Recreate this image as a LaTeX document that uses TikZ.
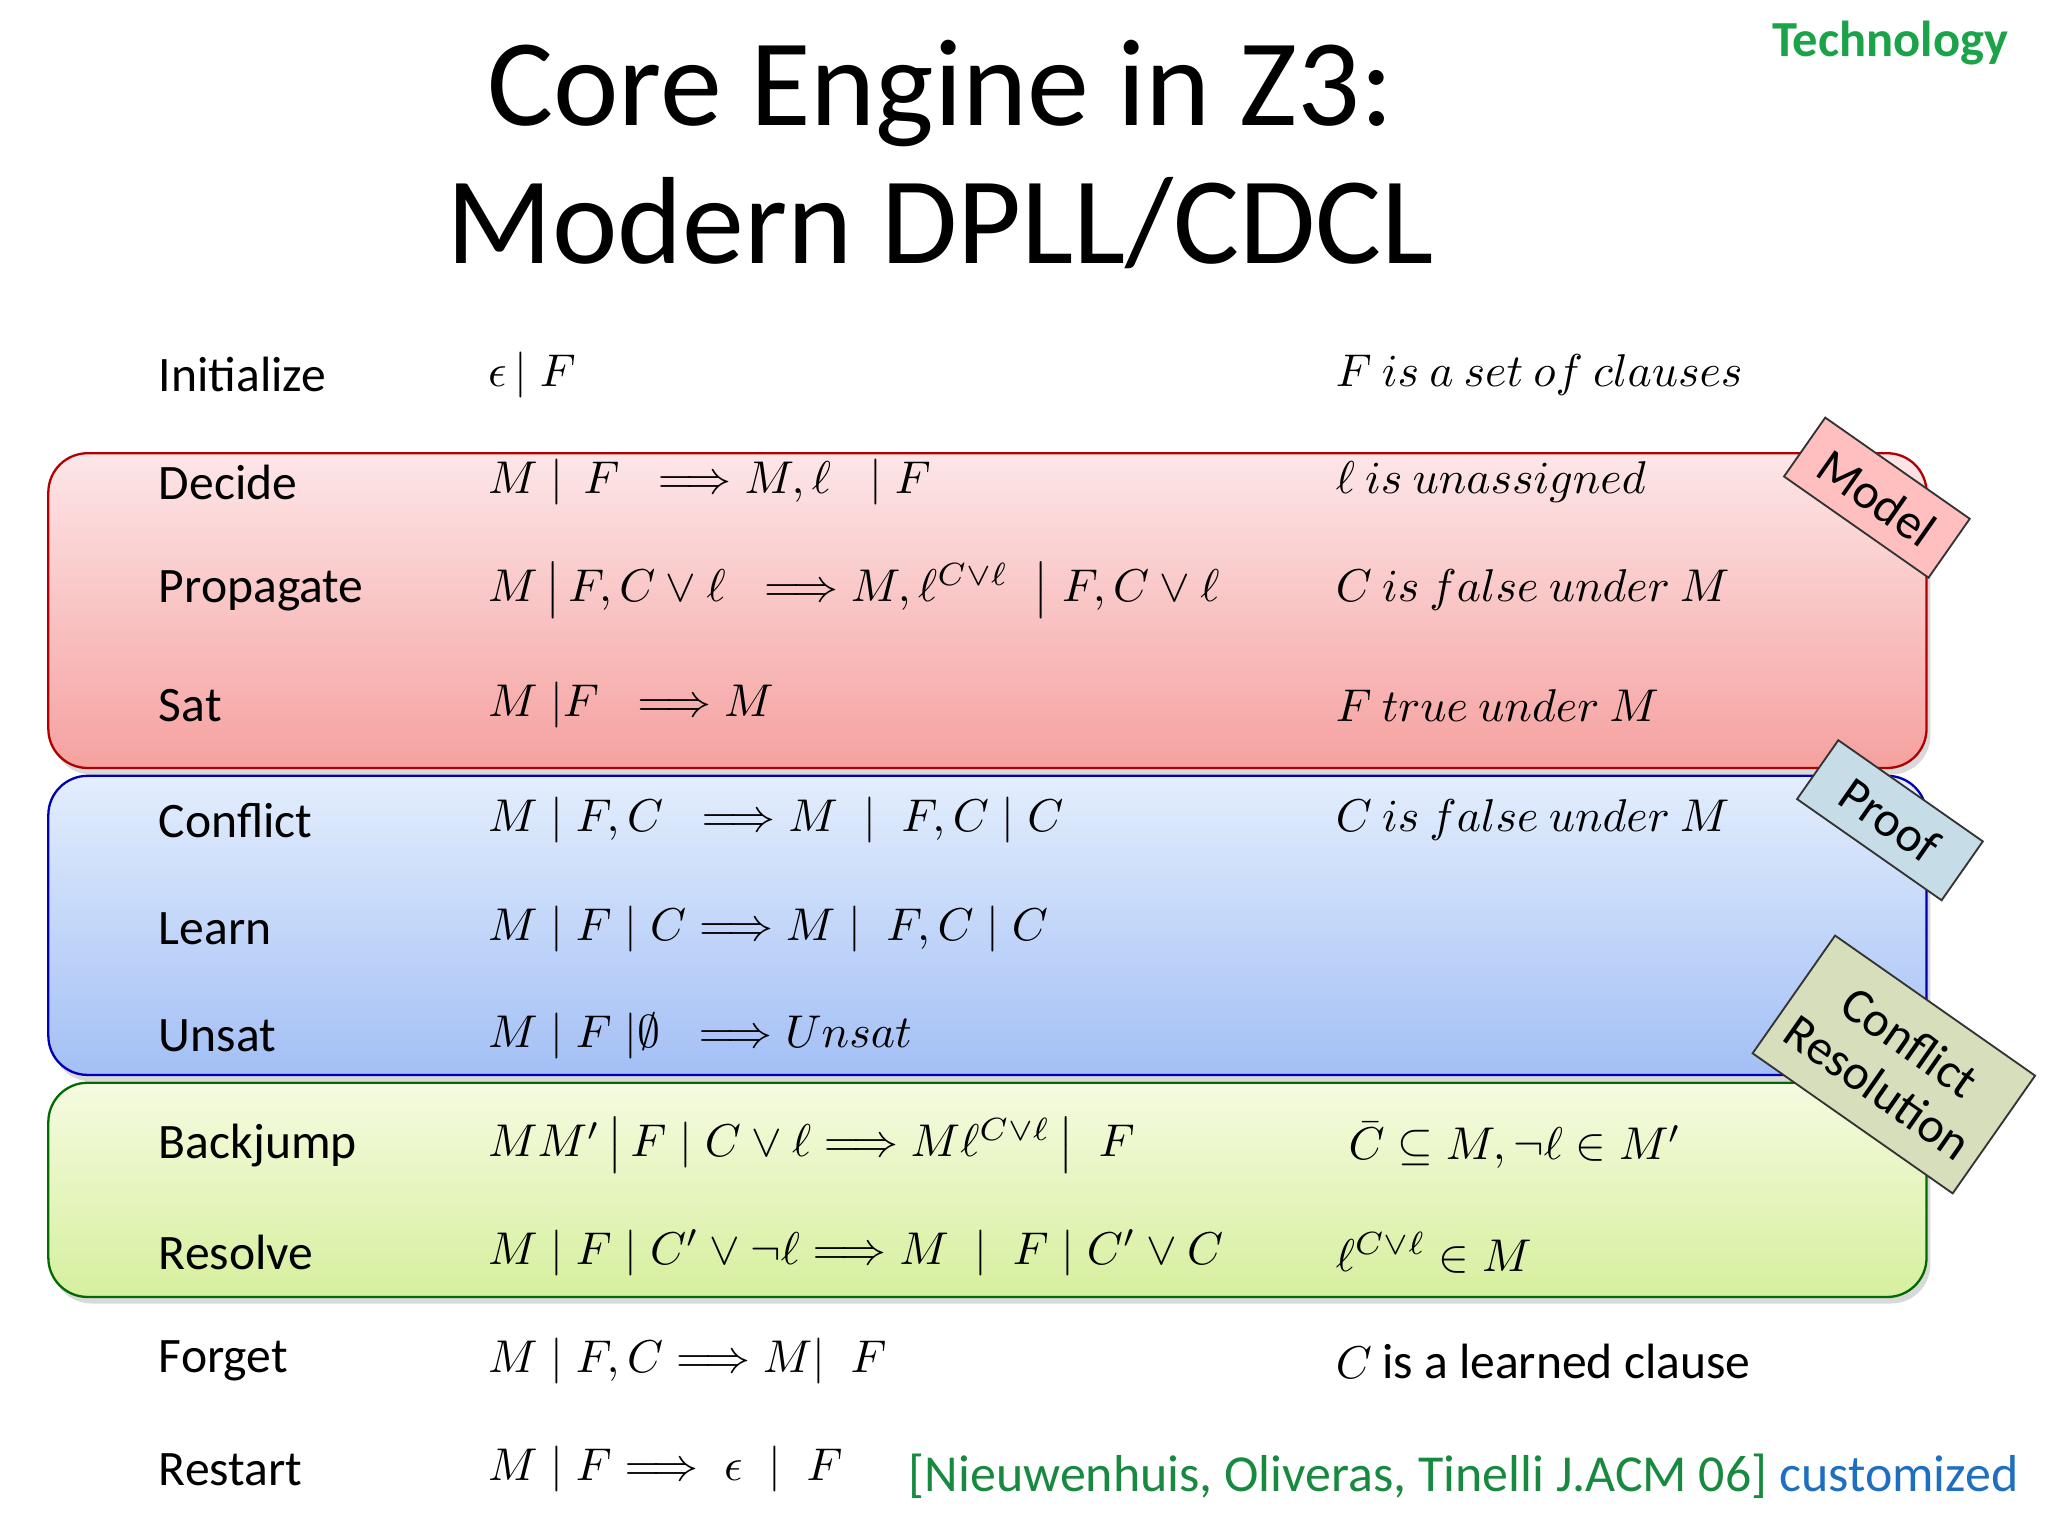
\documentclass[tikz,border=0pt]{standalone}
\usepackage{fontspec}
\setmainfont{Carlito}
\usetikzlibrary{shadows}
\begin{document}
\begin{tikzpicture}[x=0.01cm,y=-0.01cm,
  lbl/.style={anchor=west,font=\fontsize{10.8}{12}\selectfont,inner sep=0},
  frm/.style={anchor=west,font=\fontsize{9.8}{12}\selectfont,inner sep=0},
  band/.style={rounded corners=0.3cm,draw=#1!70!black,line width=0.5pt,drop shadow={opacity=0.3,shadow xshift=0.03cm,shadow yshift=-0.05cm}},
  tag/.style={draw=black!80,line width=0.4pt,rotate=-35,font=\fontsize{10.8}{12}\selectfont,align=center,minimum width=1.35cm,minimum height=0.55cm}]
\useasboundingbox (0,0) rectangle (1568,1176);
\definecolor{rtop}{HTML}{FDE6E8}\definecolor{rbot}{HTML}{F5A19F}
\definecolor{btop}{HTML}{E3EEFD}\definecolor{bbot}{HTML}{A3BFF5}
\definecolor{gtop}{HTML}{F5FBE0}\definecolor{gbot}{HTML}{D6EF9E}
\definecolor{tgreen}{HTML}{1BA34A}\definecolor{cblue}{HTML}{1F6FC0}
\node[anchor=east,font=\bfseries\fontsize{11}{12}\selectfont,text=tgreen] (tech) at (1550,33) {Technology};
\node[font=\fontsize{27}{32}\selectfont,align=center] (title) at (720,118) {Core Engine in Z3:\\[-2pt]Modern DPLL/CDCL};
\path[band=red,top color=rtop,bottom color=rbot] (37,347) rectangle (1475,588);
\path[band=blue,top color=btop,bottom color=bbot] (37,594) rectangle (1475,823);
\path[band=green!60!black,top color=gtop,bottom color=gbot] (37,829) rectangle (1475,993);
\node[tag,fill=red!25] (model) at (1437,381) {Model};
\node[tag,fill=cyan!20!teal!25] (proof) at (1447,628) {Proof};
\node[tag,fill={rgb,255:red,214;green,222;blue,188},minimum width=1.75cm,minimum height=1.1cm] (cr) at (1450,815) {Conflict\\Resolution};
\foreach \n/\y/\f/\c in {
 Initialize/287/{$\epsilon\,|\;F$}/{$F\ is\ a\ set\ of\ clauses$},
 Decide/369/{$M\;|\;\,F\;\;\Longrightarrow M,\ell\;\;\;|\;F$}/{$\ell\ is\ unassigned$},
 Propagate/452/{$M\,\big|\,F,C\vee\ell\;\;\Longrightarrow M,\ell^{C\vee\ell}\;\;\big|\;F,C\vee\ell$}/{$C\ is\ false\ under\ M$},
 Sat/540/{$M\;|F\;\;\Longrightarrow M$}/{$F\ true\ under\ M$},
 Conflict/628/{$M\;|\;F,C\;\;\Longrightarrow M\;\;|\;\;F,C\;|\;C$}/{$C\ is\ false\ under\ M$},
 Learn/711/{$M\;|\;F\;|\;C\Longrightarrow M\;|\;\;F,C\;|\;C$}/{},
 Unsat/793/{$M\;|\;F\;|\emptyset\;\;\Longrightarrow Unsat$}/{},
 Backjump/877/{$MM'\,\big|\,F\;|\;C\vee\ell\Longrightarrow M\ell^{C\vee\ell}\,\big|\;\;F$}/{$\;\bar C\subseteq M,\neg\ell\in M'$},
 Resolve/959/{$M\;|\;F\;|\;C'\vee\neg\ell\Longrightarrow M\;\;|\;\;F\;|\;C'\vee C$}/{$\ell^{C\vee\ell}\in M$},
 Forget/1042/{$M\;|\;F,C\Longrightarrow M|\;\;F$}/{$C$ {\fontsize{10.8}{12}\selectfont is a learned clause}},
 Restart/1125/{$M\;|\;F\Longrightarrow\;\epsilon\;\;|\;\;F$}/{}}
{
 \node[lbl] (n\n) at (121,\y) {\n};
 \node[frm] (f\n) at (373,\y) {\f};
 \node[frm] (c\n) at (1022,\y) {\c};
}
\node[anchor=east,inner sep=0,font=\fontsize{11.3}{12}\selectfont] (cite) at (1546,1130) {\textcolor{tgreen!85!black}{[Nieuwenhuis, Oliveras, Tinelli J.ACM 06]} \textcolor{cblue}{customized}};
\end{tikzpicture}
\end{document}
